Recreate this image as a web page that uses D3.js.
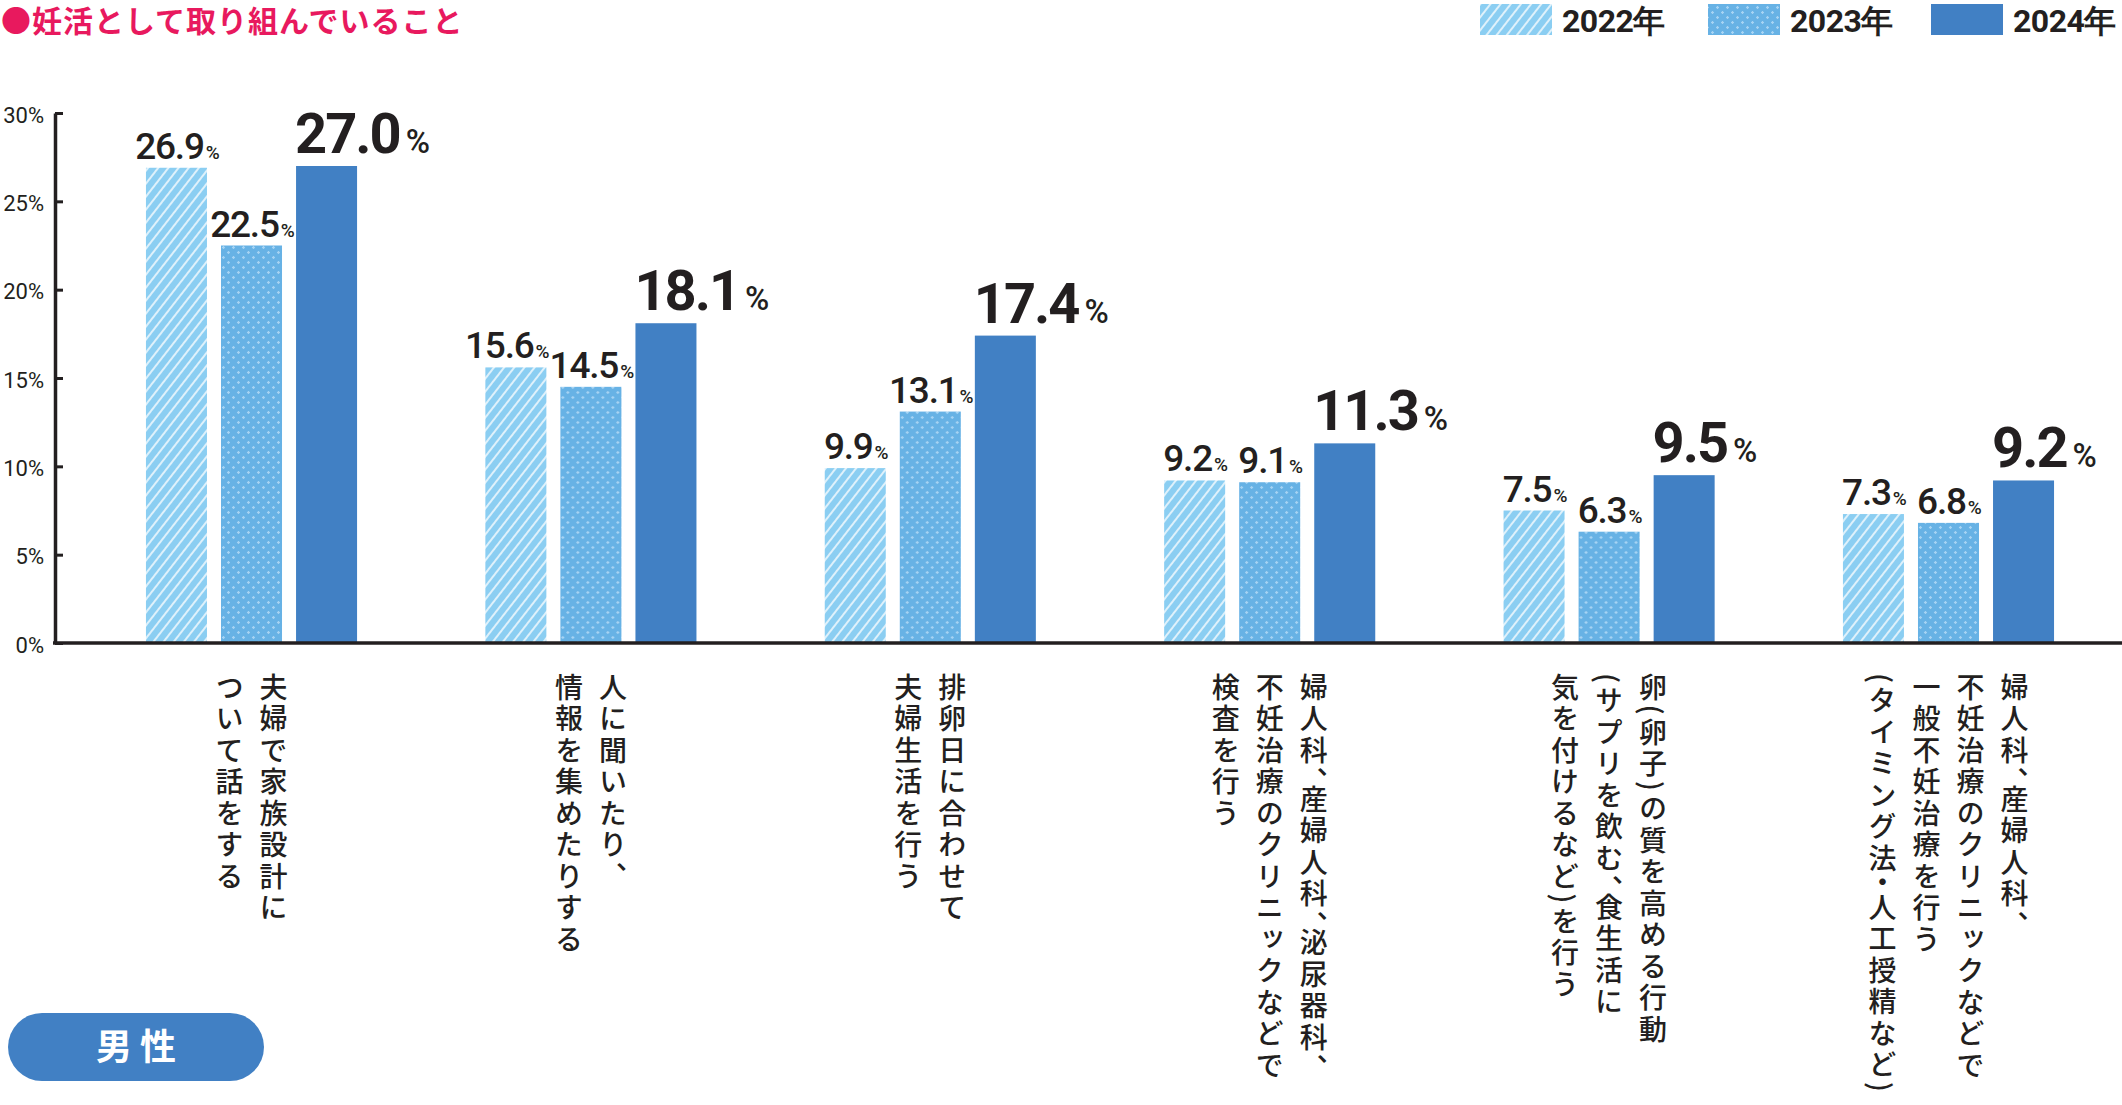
<!DOCTYPE html>
<html lang="ja">
<head>
<meta charset="utf-8">
<script src="https://cdn.jsdelivr.net/npm/d3@7"></script>
<style>
  html, body { margin: 0; padding: 0; background: #fff; }
  svg { display: block; }
  .vtext { writing-mode: vertical-rl; text-orientation: mixed; font-feature-settings: "vhal" 1; }
</style>
</head>
<body>
<div id="chart"></div>
<script>
// ---------- data ----------
const title = "●妊活として取り組んでいること";
const badgeLabel = "男性";
const categories = ["c1", "c2", "c3", "c4", "c5", "c6"];
const categoryLines = [
  ["夫婦で家族設計に", "ついて話をする"],
  ["人に聞いたり、", "情報を集めたりする"],
  ["排卵日に合わせて", "夫婦生活を行う"],
  ["婦人科、産婦人科、泌尿器科、", "不妊治療のクリニックなどで", "検査を行う"],
  ["卵(卵子)の質を高める行動", "(サプリを飲む、食生活に", "気を付けるなど)を行う"],
  ["婦人科、産婦人科、", "不妊治療のクリニックなどで", "一般不妊治療を行う", "(タイミング法・人工授精など)"]
];
const years = ["2022年", "2023年", "2024年"];
const values2022 = [26.9, 15.6, 9.9, 9.2, 7.5, 7.3];
const values2023 = [22.5, 14.5, 13.1, 9.1, 6.3, 6.8];
const values2024 = [27.0, 18.1, 17.4, 11.3, 9.5, 9.2];
const yTicks = [0, 5, 10, 15, 20, 25, 30];

// ---------- setup ----------
const W = 2122, H = 1105;
const ink = "#231F20";
const pink = "#E8195E";
const c2022 = "#8BCEF2", c2023 = "#67B2E5", c2024 = "#4180C4";
const numFont = "Roboto, 'Liberation Sans', sans-serif";
const jpFont = "'Noto Sans CJK JP', 'Noto Sans', sans-serif";

const svg = d3.select("#chart").append("svg")
  .attr("width", W).attr("height", H)
  .attr("viewBox", `0 0 ${W} ${H}`);

const defs = svg.append("defs");
// hatch pattern for 2022
const hatch = defs.append("pattern")
  .attr("id", "hatch").attr("patternUnits", "userSpaceOnUse")
  .attr("width", 8).attr("height", 8)
  .attr("patternTransform", "rotate(38)");
hatch.append("rect").attr("width", 8).attr("height", 8).attr("fill", c2022);
hatch.append("line").attr("x1", 1).attr("x2", 1).attr("y1", 0).attr("y2", 8)
  .attr("stroke", "#fff").attr("stroke-width", 1.6).attr("stroke-opacity", 0.9);
// dot pattern for 2023
const dots = defs.append("pattern")
  .attr("id", "dots").attr("patternUnits", "userSpaceOnUse")
  .attr("width", 10).attr("height", 10);
dots.append("rect").attr("width", 10).attr("height", 10).attr("fill", c2023);
[[2.5, 2.5], [7.5, 7.5]].forEach(([cx, cy]) => {
  dots.append("rect").attr("x", cx - 1.5).attr("y", cy - 0.6).attr("width", 3).attr("height", 1.2).attr("fill", "#A6D3F3");
  dots.append("rect").attr("x", cx - 0.6).attr("y", cy - 1.5).attr("width", 1.2).attr("height", 3).attr("fill", "#A6D3F3");
});

const fills = ["url(#hatch)", "url(#dots)", c2024];
const seriesValues = [values2022, values2023, values2024];

// ---------- scales ----------
const y = d3.scaleLinear().domain([0, 30]).range([643, 113]);
const x0 = d3.scaleBand().domain(categories).range([55, 2145])
  .paddingInner(0.378).paddingOuter(0.268);
const x1 = d3.scaleBand().domain(years).range([0, x0.bandwidth()])
  .paddingInner(0.187).paddingOuter(0);

// ---------- title ----------
svg.append("text")
  .attr("x", 1).attr("y", 32)
  .attr("font-family", jpFont).attr("font-weight", 700)
  .attr("font-size", 30).attr("letter-spacing", 1)
  .attr("fill", pink).text(title);

// ---------- legend ----------
const legendX = [1480, 1708, 1931];
const legend = svg.append("g");
years.forEach((yr, i) => {
  legend.append("rect").attr("x", legendX[i]).attr("y", 4)
    .attr("width", 72).attr("height", 31).attr("fill", fills[i]);
  legend.append("text").attr("x", legendX[i] + 82).attr("y", 32)
    .attr("font-family", numFont).attr("font-weight", 700)
    .attr("font-size", 32).attr("letter-spacing", -0.5)
    .attr("fill", ink).text(yr);
});

// ---------- bars ----------
const groups = svg.append("g").selectAll("g.grp")
  .data(categories).join("g").attr("class", "grp")
  .attr("transform", d => `translate(${x0(d)},0)`);

groups.each(function (cat, ci) {
  const g = d3.select(this);
  years.forEach((yr, si) => {
    const v = seriesValues[si][ci];
    g.append("rect")
      .attr("x", x1(yr)).attr("y", y(v))
      .attr("width", x1.bandwidth()).attr("height", y(0) - y(v))
      .attr("fill", fills[si]);
  });
});

// ---------- value labels ----------
groups.each(function (cat, ci) {
  const g = d3.select(this);
  const placed = [];
  years.forEach((yr, si) => {
    const v = seriesValues[si][ci];
    const big = si === 2;
    const t = g.append("text")
      .attr("y", y(v) - (big ? 13 : 9))
      .attr("font-family", numFont).attr("fill", ink);
    t.append("tspan").attr("font-weight", big ? 700 : 500)
      .attr("font-size", big ? 56 : 37)
      .attr("letter-spacing", big ? -2 : -1.2)
      .text(v.toFixed(1));
    t.append("tspan").attr("font-weight", 500)
      .attr("font-size", big ? 33 : 19)
      .attr("dx", big ? 6 : 2)
      .text("%");
    const w = t.node().getComputedTextLength();
    let x;
    if (big) x = x1(yr) - 1;
    else x = x1(yr) + x1.bandwidth() / 2 - w / 2;
    t.attr("x", x);
    placed.push({ t, x, w, y: y(v) });
  });
  // avoid collision between 2022 and 2023 labels
  const a = placed[0], b = placed[1];
  if (Math.abs(a.y - b.y) < 30 && a.x + a.w > b.x - 2) {
    a.t.attr("x", b.x - 2 - a.w);
  }
});

// ---------- axes ----------
const yAxis = d3.axisLeft(y).tickValues(yTicks)
  .tickSizeInner(-8).tickSizeOuter(0).tickPadding(11)
  .tickFormat(d => d + "%");
const ay = svg.append("g").attr("transform", "translate(55,0)").call(yAxis);
ay.select(".domain").attr("stroke", ink).attr("stroke-width", 3.5);
ay.selectAll(".tick line").attr("stroke", ink).attr("stroke-width", 3);
ay.selectAll(".tick text").attr("font-family", numFont).attr("font-size", 22)
  .attr("fill", ink).attr("dy", "0.42em");

svg.append("line").attr("x1", 53).attr("x2", W)
  .attr("y1", y(0)).attr("y2", y(0))
  .attr("stroke", ink).attr("stroke-width", 3.5);

// ---------- category labels (vertical) ----------
const colGap = 44;
categories.forEach((cat, ci) => {
  const lines = categoryLines[ci];
  const cx = x0(cat) + x0.bandwidth() / 2;
  const n = lines.length;
  lines.forEach((ln, li) => {
    svg.append("text")
      .attr("class", "vtext")
      .attr("x", cx + (n - 1) / 2 * colGap - li * colGap)
      .attr("y", 673)
      .attr("font-family", jpFont).attr("font-weight", 500)
      .attr("font-size", 28).attr("letter-spacing", 3.5)
      .attr("fill", ink)
      .text(ln);
  });
});

// ---------- badge ----------
svg.append("rect").attr("x", 8).attr("y", 1013)
  .attr("width", 256).attr("height", 68).attr("rx", 34).attr("ry", 34)
  .attr("fill", c2024);
svg.append("text").attr("x", 140).attr("y", 1060)
  .attr("text-anchor", "middle")
  .attr("font-family", jpFont).attr("font-weight", 700)
  .attr("font-size", 36).attr("letter-spacing", 8)
  .attr("fill", "#fff").text(badgeLabel);
</script>
</body>
</html>
